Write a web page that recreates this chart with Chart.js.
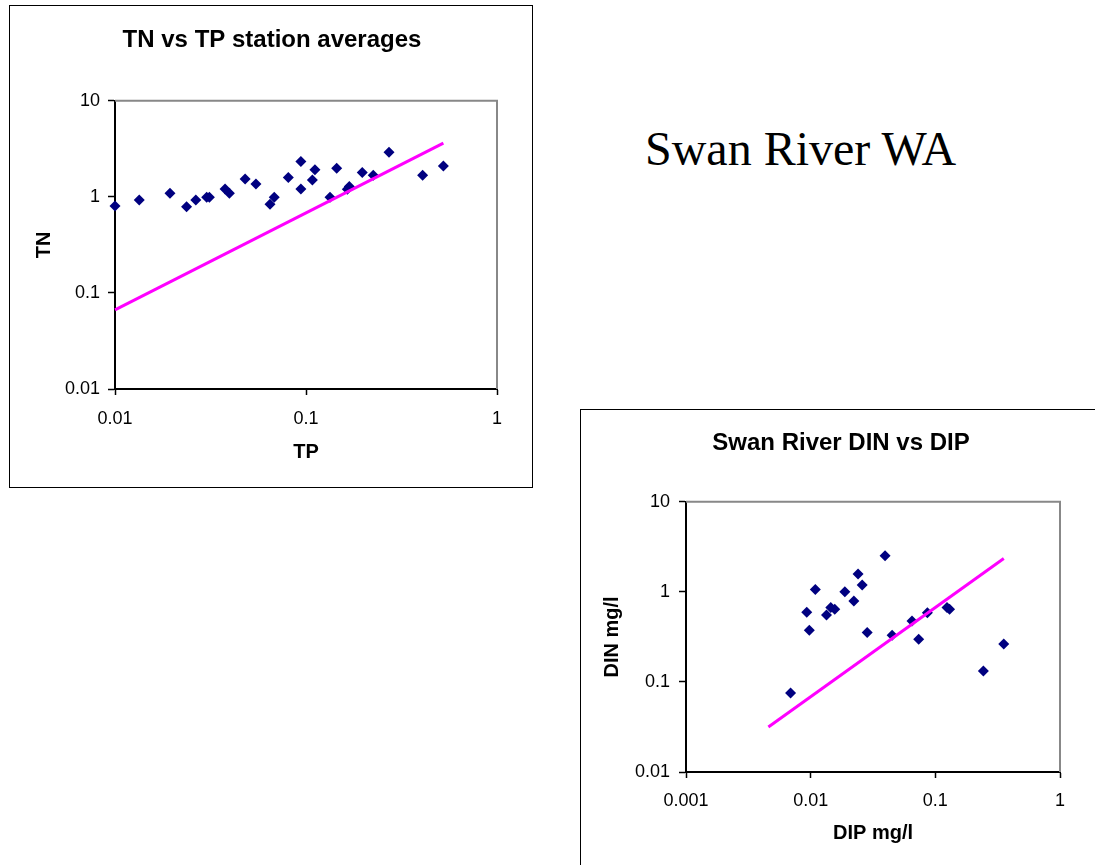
<!DOCTYPE html>
<html>
<head>
<meta charset="utf-8">
<title>Swan River WA</title>
<script src="https://cdn.jsdelivr.net/npm/chart.js@4.4.1/dist/chart.umd.min.js"></script>
<style>
  html, body { margin: 0; padding: 0; background: #fff; overflow: hidden; width: 1095px; height: 865px; }
  .box { position: absolute; border: 1px solid #000; background: #fff; }
  #box1 { left: 9px; top: 5px; width: 522px; height: 481px; }
  #box2 { left: 580px; top: 409px; width: 530px; height: 470px; }
  canvas { display: block; }
  #caption {
    position: absolute; left: 645px; top: 125px;
    font-family: "Liberation Serif", "Times New Roman", serif;
    font-size: 48px; line-height: 48px; color: #000; white-space: nowrap;
  }
</style>
</head>
<body>
<div class="box" id="box1"><canvas id="tnTp" width="522" height="481"></canvas></div>
<div id="caption">Swan River WA</div>
<div class="box" id="box2"><canvas id="dinDip" width="530" height="470"></canvas></div>
<script>
// TN vs TP station averages (mg/l)
const tpValues = [0.01, 0.0134, 0.0194, 0.0237, 0.0265, 0.0302, 0.0312, 0.0377, 0.0397, 0.048,
  0.0547, 0.0648, 0.0682, 0.0808, 0.094, 0.094, 0.108, 0.1114, 0.1336, 0.1448,
  0.1645, 0.1686, 0.197, 0.225, 0.272, 0.408, 0.524];
const tnValues = [0.805, 0.93, 1.09, 0.79, 0.93, 0.99, 0.99, 1.21, 1.09, 1.53,
  1.36, 0.84, 0.99, 1.59, 2.33, 1.21, 1.50, 1.91, 0.99, 1.99,
  1.20, 1.28, 1.79, 1.68, 2.92, 1.68, 2.10];
// Redfield N:P line
const ratioLineTP = [0.01, 0.524];
const ratioLineTN = [0.0665, 3.62];
const tpTicks = [0.01, 0.1, 1];
const tnTicks = [0.01, 0.1, 1, 10];

// Swan River DIN vs DIP (mg/l)
const dipValues = [0.0069, 0.0093, 0.00975, 0.0109, 0.0134, 0.0145, 0.0156, 0.0188, 0.0222, 0.024,
  0.0259, 0.0284, 0.0395, 0.045, 0.065, 0.0735, 0.0863, 0.124, 0.130, 0.243, 0.354];
const dinValues = [0.0755, 0.594, 0.375, 1.06, 0.555, 0.671, 0.643, 1.0, 0.794, 1.58,
  1.19, 0.354, 2.51, 0.33, 0.476, 0.298, 0.585, 0.671, 0.643, 0.132, 0.264];
const ratioLineDIP = [0.00458, 0.354];
const ratioLineDIN = [0.0316, 2.35];
const dipTicks = [0.001, 0.01, 0.1, 1];
const dinTicks = [0.01, 0.1, 1, 10];

Chart.defaults.font.family = '"Liberation Sans", Arial, sans-serif';
Chart.defaults.color = '#000';
Chart.defaults.animation = false;

// grey frame on top/right of the plot area, axes draw black over left/bottom
const plotFrame = {
  id: 'plotFrame',
  beforeDatasetsDraw(chart) {
    const { ctx, chartArea: a } = chart;
    ctx.save();
    ctx.strokeStyle = '#888';
    ctx.lineWidth = 2;
    ctx.beginPath();
    ctx.moveTo(a.left, a.top);
    ctx.lineTo(a.right, a.top);
    ctx.lineTo(a.right, a.bottom);
    ctx.stroke();
    ctx.restore();
  }
};

function pairs(xs, ys) {
  return xs.map((x, i) => ({ x: x, y: ys[i] }));
}

function logAxis(cfg) {
  return {
    type: 'logarithmic',
    position: cfg.position,
    min: cfg.ticks[0],
    max: cfg.ticks[cfg.ticks.length - 1],
    afterBuildTicks: s => { s.ticks = cfg.ticks.map(v => ({ value: v })); },
    afterFit: s => {
      if (cfg.width) s.width = cfg.width;
      if (cfg.height) s.height = cfg.height;
    },
    ticks: {
      autoSkip: false,
      padding: cfg.tickPad,
      maxRotation: 0,
      font: { size: 18 },
      callback: v => String(v)
    },
    grid: {
      drawOnChartArea: false,
      drawTicks: true,
      tickLength: cfg.tickLen,
      tickColor: '#000',
      tickWidth: 1.5
    },
    border: { display: true, color: '#000', width: 2 },
    title: {
      display: true,
      text: cfg.title,
      font: { size: 20, weight: 'bold' },
      padding: { top: 4, bottom: 4 }
    }
  };
}

// empty right-hand strip, keeps the title centred on the whole box
function spacer(width) {
  return {
    type: 'linear',
    position: 'right',
    ticks: { display: false },
    grid: { display: false },
    border: { display: false },
    afterFit: s => { s.width = width; }
  };
}

function makeChart(id, o) {
  return new Chart(document.getElementById(id), {
    type: 'scatter',
    data: {
      datasets: [
        {
          data: pairs(o.lineX, o.lineY),
          showLine: true,
          borderColor: '#ff00ff',
          borderWidth: 3,
          pointRadius: 0,
          clip: false
        },
        {
          data: pairs(o.xs, o.ys),
          pointStyle: 'rectRot',
          pointRadius: 5.5,
          backgroundColor: '#000080',
          borderColor: '#000080',
          borderWidth: 0,
          clip: false
        }
      ]
    },
    options: {
      responsive: false,
      devicePixelRatio: 1,
      layout: { padding: o.padding },
      plugins: {
        legend: { display: false },
        tooltip: { enabled: false },
        title: {
          display: true,
          text: o.title,
          font: { size: 24, weight: 'bold' },
          padding: o.titlePad
        }
      },
      scales: {
        x: logAxis({ position: 'bottom', ticks: o.xTicks, title: o.xTitle, height: o.xHeight, tickLen: 6, tickPad: o.xTickPad }),
        y: logAxis({ position: 'left', ticks: o.yTicks, title: o.yTitle, width: o.yWidth, tickLen: 7, tickPad: o.yTickPad }),
        edge: spacer(o.rightWidth)
      }
    },
    plugins: [plotFrame]
  });
}

makeChart('tnTp', {
  title: 'TN vs TP station averages',
  xs: tpValues, ys: tnValues,
  lineX: ratioLineTP, lineY: ratioLineTN,
  xTicks: tpTicks, yTicks: tnTicks,
  xTitle: 'TP', yTitle: 'TN',
  padding: { left: 18, right: 16, top: 0, bottom: 19 },
  titlePad: { top: 20, bottom: 46 },
  yWidth: 87, xHeight: 79, rightWidth: 19,
  xTickPad: 13, yTickPad: 8
});

makeChart('dinDip', {
  title: 'Swan River DIN vs DIP',
  xs: dipValues, ys: dinValues,
  lineX: ratioLineDIP, lineY: ratioLineDIN,
  xTicks: dipTicks, yTicks: dinTicks,
  xTitle: 'DIP mg/l', yTitle: 'DIN mg/l',
  padding: { left: 15, right: 25, top: 0, bottom: 31 },
  titlePad: { top: 19, bottom: 44 },
  yWidth: 90, xHeight: 77, rightWidth: 26,
  xTickPad: 12, yTickPad: 9
});
</script>
</body>
</html>
